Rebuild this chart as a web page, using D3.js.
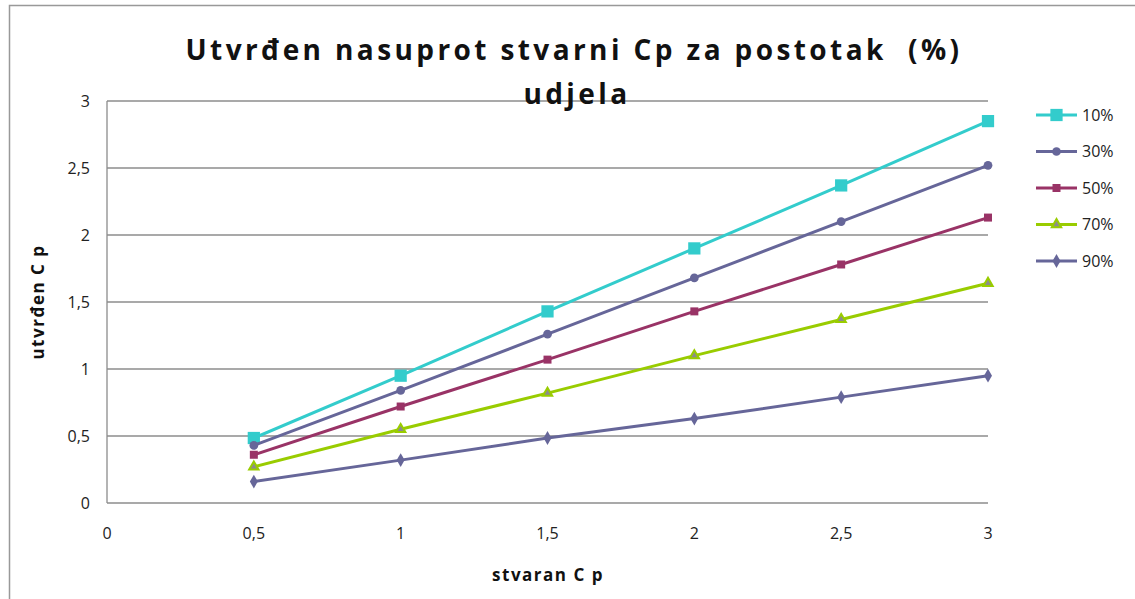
<!DOCTYPE html>
<html>
<head>
<meta charset="utf-8">
<script src="https://cdn.jsdelivr.net/npm/d3@7"></script>
<style>
  body { margin: 0; background: #fff; }
  svg { display: block; font-family: "Open Sans", "Liberation Sans", sans-serif; }
</style>
</head>
<body>
<svg id="chart" width="1135" height="599"></svg>
<script>
const xValues = [0.5, 1, 1.5, 2, 2.5, 3]
const seriesNames = ['10%', '30%', '50%', '70%', '90%']
const s10 = [0.485, 0.95, 1.43, 1.90, 2.37, 2.85]
const s30 = [0.43, 0.84, 1.26, 1.68, 2.10, 2.52]
const s50 = [0.36, 0.72, 1.07, 1.43, 1.78, 2.13]
const s70 = [0.27, 0.55, 0.82, 1.10, 1.37, 1.64]
const s90 = [0.16, 0.32, 0.485, 0.63, 0.79, 0.95]
const xTicks = [0, 0.5, 1, 1.5, 2, 2.5, 3]
const yTicks = [0, 0.5, 1, 1.5, 2, 2.5, 3]

const series = [
  { name: seriesNames[0], values: s10, color: '#33CCCC', fill: '#33CCCC', symbol: d3.symbolSquare, size: 150 },
  { name: seriesNames[1], values: s30, color: '#666699', fill: '#666699', symbol: d3.symbolCircle, size: 60 },
  { name: seriesNames[2], values: s50, color: '#993366', fill: '#993366', symbol: d3.symbolSquare, size: 64 },
  { name: seriesNames[3], values: s70, color: '#99CC00', fill: '#8c8c8c', symbol: d3.symbolTriangle, size: 38 },
  { name: seriesNames[4], values: s90, color: '#666699', fill: '#666699', symbol: d3.symbolDiamond, size: 55 }
]

const fmt = v => String(v).replace('.', ',')

const svg = d3.select('#chart')

// outer frame
svg.append('rect')
  .attr('x', 9.5).attr('y', 5.5)
  .attr('width', 1140).attr('height', 610)
  .attr('fill', 'none').attr('stroke', '#999').attr('stroke-width', 1.5)

const x = d3.scaleLinear().domain([0, 3]).range([107, 988])
const y = d3.scaleLinear().domain([0, 3]).range([503, 101])

// gridlines
svg.append('g')
  .selectAll('line')
  .data(yTicks)
  .join('line')
  .attr('x1', x(0)).attr('x2', x(3))
  .attr('y1', d => y(d)).attr('y2', d => y(d))
  .attr('stroke', '#8c8c8c').attr('stroke-width', 1.3)

// left axis
svg.append('line')
  .attr('x1', x(0)).attr('x2', x(0))
  .attr('y1', y(0)).attr('y2', y(3))
  .attr('stroke', '#8c8c8c').attr('stroke-width', 1.3)

// tick labels
svg.append('g')
  .selectAll('text')
  .data(yTicks)
  .join('text')
  .attr('x', 90).attr('y', d => y(d))
  .attr('dy', '0.35em')
  .attr('text-anchor', 'end')
  .attr('font-size', 16).attr('fill', '#222')
  .text(fmt)

svg.append('g')
  .selectAll('text')
  .data(xTicks)
  .join('text')
  .attr('x', d => x(d)).attr('y', 533)
  .attr('dy', '0.35em')
  .attr('text-anchor', 'middle')
  .attr('font-size', 16).attr('fill', '#222')
  .text(fmt)

// lines and markers
const line = d3.line().x((d, i) => x(xValues[i])).y(d => y(d))

series.forEach(s => {
  svg.append('path')
    .datum(s.values)
    .attr('d', line)
    .attr('fill', 'none')
    .attr('stroke', s.color)
    .attr('stroke-width', 3)

  svg.append('g')
    .selectAll('path')
    .data(s.values)
    .join('path')
    .attr('transform', (d, i) => `translate(${x(xValues[i])},${y(d)})`)
    .attr('d', d3.symbol().type(s.symbol).size(s.size))
    .attr('fill', s.fill)
    .attr('stroke', s.symbol === d3.symbolTriangle ? s.color : 'none')
    .attr('stroke-width', 2)
})

// legend
const legend = svg.append('g')
series.forEach((s, i) => {
  const ly = 115 + i * 36.5
  legend.append('line')
    .attr('x1', 1036).attr('x2', 1077)
    .attr('y1', ly).attr('y2', ly)
    .attr('stroke', s.color).attr('stroke-width', 3)
  legend.append('path')
    .attr('transform', `translate(1056.5,${ly})`)
    .attr('d', d3.symbol().type(s.symbol).size(s.size))
    .attr('fill', s.fill)
    .attr('stroke', s.symbol === d3.symbolTriangle ? s.color : 'none')
    .attr('stroke-width', 2)
  legend.append('text')
    .attr('x', 1082).attr('y', ly)
    .attr('dy', '0.35em')
    .attr('font-size', 16).attr('fill', '#222')
    .text(s.name)
})

// title
svg.append('text')
  .attr('x', 574).attr('y', 60)
  .attr('text-anchor', 'middle')
  .attr('font-size', 28).attr('font-weight', 'bold')
  .attr('letter-spacing', 3.4)
  .style('white-space', 'pre')
  .attr('fill', '#111')
  .text('Utvrđen nasuprot stvarni Cp za postotak  (%)')

svg.append('text')
  .attr('x', 577).attr('y', 104)
  .attr('text-anchor', 'middle')
  .attr('font-size', 28).attr('font-weight', 'bold')
  .attr('letter-spacing', 3.4)
  .attr('fill', '#111')
  .text('udjela')

// axis titles
svg.append('text')
  .attr('x', 548).attr('y', 581)
  .attr('text-anchor', 'middle')
  .attr('font-size', 17).attr('font-weight', 'bold')
  .attr('letter-spacing', 1.5)
  .attr('fill', '#111')
  .text('stvaran C p')

svg.append('text')
  .attr('transform', 'translate(44,302) rotate(-90)')
  .attr('text-anchor', 'middle')
  .attr('font-size', 17).attr('font-weight', 'bold')
  .attr('letter-spacing', 1.5)
  .attr('fill', '#111')
  .text('utvrđen C p')
</script>
</body>
</html>
